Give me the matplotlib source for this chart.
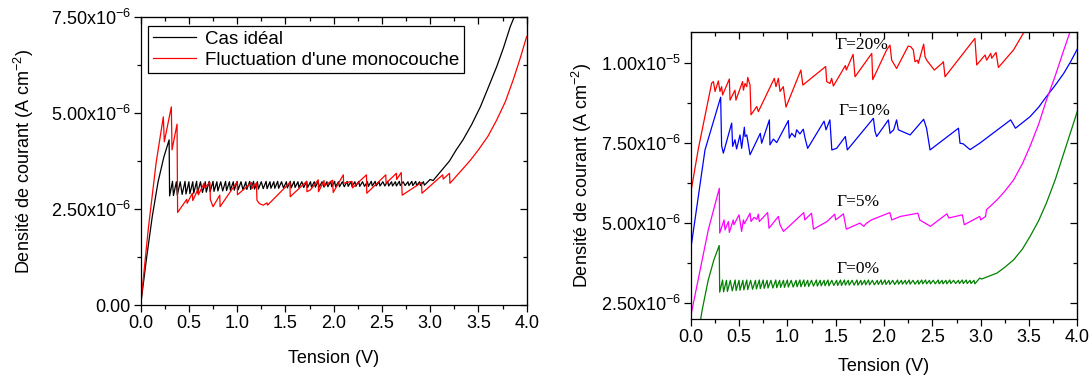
import matplotlib
matplotlib.use('Agg')
import matplotlib.pyplot as plt
from matplotlib.ticker import FixedLocator

plt.rcParams['font.family'] = ['Liberation Sans', 'DejaVu Sans']
plt.rcParams['mathtext.fontset'] = 'custom'
plt.rcParams['mathtext.rm'] = 'Liberation Sans'
plt.rcParams['mathtext.it'] = 'Liberation Sans:italic'
plt.rcParams['font.size'] = 13

# current density in units of 1e-6 A cm^-2, voltage in V

# ideal case (also Gamma = 0 %): rise, regular sawtooth, then tail
ideal_rise_v = [0.0, 0.06, 0.12, 0.18, 0.24, 0.295]
ideal_rise_j = [0.0, 1.2, 2.3, 3.2, 3.85, 4.30]

ideal_trough_v = [0.30, 0.34, 0.38, 0.43, 0.47, 0.51, 0.55, 0.59, 0.64, 0.68,
                  0.72, 0.76, 0.80, 0.85, 0.89, 0.93, 0.97, 1.01, 1.06, 1.10,
                  1.14, 1.18, 1.22, 1.27, 1.31, 1.35, 1.39, 1.43, 1.48, 1.52,
                  1.56, 1.60, 1.64, 1.69, 1.73, 1.77, 1.81, 1.85, 1.90, 1.94,
                  1.98, 2.02, 2.06, 2.11, 2.15, 2.19, 2.23, 2.27, 2.32, 2.36,
                  2.40, 2.44, 2.48, 2.53, 2.57, 2.61, 2.65, 2.69, 2.74, 2.78,
                  2.82, 2.86, 2.90]
ideal_trough_j = [2.84, 2.85, 2.86, 2.88, 2.89, 2.90, 2.91, 2.92, 2.93, 2.94,
                  2.95, 2.96, 2.97, 2.97, 2.98, 2.99, 2.99, 3.00, 3.00, 3.01,
                  3.01, 3.02, 3.02, 3.03, 3.03, 3.04, 3.04, 3.04, 3.05, 3.05,
                  3.05, 3.06, 3.06, 3.06, 3.06, 3.07, 3.07, 3.07, 3.07, 3.08,
                  3.08, 3.08, 3.08, 3.08, 3.09, 3.09, 3.09, 3.09, 3.09, 3.09,
                  3.10, 3.10, 3.10, 3.10, 3.10, 3.10, 3.10, 3.11, 3.11, 3.11,
                  3.11, 3.11, 3.11]
ideal_peak_v = [0.33, 0.37, 0.41, 0.46, 0.50, 0.54, 0.58, 0.62, 0.67, 0.71,
                0.75, 0.79, 0.83, 0.88, 0.92, 0.96, 1.00, 1.04, 1.09, 1.13,
                1.17, 1.21, 1.25, 1.30, 1.34, 1.38, 1.42, 1.46, 1.51, 1.55,
                1.59, 1.63, 1.67, 1.72, 1.76, 1.80, 1.84, 1.88, 1.93, 1.97,
                2.01, 2.05, 2.09, 2.14, 2.18, 2.22, 2.26, 2.30, 2.35, 2.39,
                2.43, 2.47, 2.51, 2.56, 2.60, 2.64, 2.68, 2.72, 2.77, 2.81,
                2.85, 2.89, 2.93]
ideal_peak_j = [3.22, 3.21, 3.21, 3.22, 3.21, 3.21, 3.22, 3.21, 3.21, 3.22,
                3.22, 3.21, 3.21, 3.22, 3.21, 3.21, 3.22, 3.21, 3.21, 3.22,
                3.22, 3.21, 3.21, 3.22, 3.21, 3.21, 3.22, 3.21, 3.21, 3.22,
                3.22, 3.21, 3.21, 3.22, 3.21, 3.21, 3.22, 3.21, 3.21, 3.22,
                3.22, 3.21, 3.21, 3.22, 3.21, 3.21, 3.22, 3.21, 3.21, 3.22,
                3.22, 3.21, 3.21, 3.22, 3.21, 3.21, 3.22, 3.21, 3.21, 3.22,
                3.22, 3.21, 3.21]

left_tail_v = [2.94, 3.00, 3.03, 3.10, 3.20, 3.27, 3.34, 3.43, 3.52, 3.60,
               3.69, 3.76, 3.83, 3.92]
left_tail_j = [3.12, 3.27, 3.24, 3.45, 3.75, 4.04, 4.30, 4.70, 5.16, 5.65,
               6.21, 6.70, 7.25, 7.80]

right_tail_v = [2.94, 2.99, 3.01, 3.17, 3.25, 3.34, 3.43, 3.51, 3.60, 3.68,
                3.77, 3.86, 3.93, 4.00]
right_tail_j = [3.10, 3.28, 3.25, 3.44, 3.62, 3.85, 4.18, 4.58, 5.08, 5.63,
                6.35, 7.19, 7.85, 8.50]

# one monolayer fluctuation (left panel)
fluct_v = [0.0, 0.08, 0.16, 0.235, 0.245, 0.318, 0.325, 0.377, 0.383,
           0.477, 0.482, 0.536, 0.540, 0.595, 0.598, 0.657, 0.660, 0.718, 0.722,
           0.75, 0.82, 0.823, 1.0, 1.003, 1.15, 1.153, 1.20, 1.205, 1.23,
           1.27, 1.31, 1.315, 1.547, 1.55, 1.72, 1.723, 1.76, 1.84, 1.843,
           1.90, 1.903, 1.99, 1.995, 2.10, 2.103, 2.19, 2.195, 2.34, 2.343,
           2.54, 2.543, 2.65, 2.653, 2.70, 2.71, 2.91, 2.915, 3.13, 3.135,
           3.20, 3.205, 3.34, 3.42, 3.50, 3.60, 3.69, 3.78, 3.86, 3.93, 4.0]
fluct_j = [0.0, 2.0, 3.7, 4.90, 4.25, 5.16, 4.04, 4.71, 2.41,
           2.75, 2.65, 2.91, 2.72, 3.02, 2.87, 3.17, 3.05, 3.19, 2.75,
           2.56, 2.86, 2.56, 3.21, 2.87, 3.19, 3.03, 3.18, 2.73, 2.64,
           2.60, 2.66, 2.60, 3.19, 2.82, 3.22, 2.95, 3.00, 3.26, 2.95,
           3.24, 3.10, 3.25, 2.93, 3.39, 3.17, 3.22, 3.05, 3.39, 2.91,
           3.39, 3.17, 3.43, 3.27, 3.45, 2.86, 3.19, 2.91, 3.39, 3.28,
           3.43, 3.17, 3.55, 3.78, 4.04, 4.40, 4.82, 5.30, 5.86, 6.40, 6.99]

# Gamma = 5 %
g5_v = [0.0, 0.182, 0.296, 0.30, 0.345, 0.355, 0.39, 0.40, 0.44, 0.447,
        0.50, 0.527, 0.545, 0.555, 0.614, 0.624, 0.655, 0.683, 0.70, 0.71,
        0.796, 0.81, 0.907, 0.924, 0.96, 1.17, 1.18, 1.25, 1.27, 1.41,
        1.49, 1.50, 1.58, 1.61, 1.75, 1.79, 1.82, 1.87, 2.06, 2.08,
        2.17, 2.35, 2.37, 2.48, 2.65, 2.67, 2.81, 2.83, 2.99, 3.00,
        3.05, 3.06, 3.17, 3.25, 3.34, 3.43, 3.51, 3.60, 3.68, 3.77, 3.86, 3.96]
g5_j = [2.08, 4.79, 6.09, 4.69, 5.10, 4.79, 5.05, 4.71, 5.10, 4.95,
        5.26, 4.74, 5.10, 4.98, 5.31, 5.05, 5.18, 5.12, 5.28, 5.05,
        5.33, 4.84, 5.21, 4.95, 4.74, 5.33, 5.10, 5.31, 4.81, 5.05,
        5.28, 5.10, 5.29, 4.81, 5.00, 4.90, 5.00, 5.10, 5.33, 5.10,
        5.21, 5.31, 5.10, 4.90, 5.29, 5.16, 5.26, 4.95, 5.21, 5.10,
        5.21, 5.42, 5.73, 6.00, 6.35, 6.85, 7.40, 8.10, 8.85, 9.60, 10.42, 11.30]

# Gamma = 10 %
g10_v = [0.0, 0.148, 0.31, 0.32, 0.338, 0.424, 0.434, 0.458, 0.475, 0.51,
         0.527, 0.555, 0.562, 0.58, 0.614, 0.72, 0.734, 0.814, 0.82, 0.855,
         0.89, 1.01, 1.02, 1.045, 1.08, 1.096, 1.13, 1.165, 1.183, 1.21,
         1.38, 1.40, 1.44, 1.46, 1.51, 1.60, 1.62, 1.89, 1.907, 1.924,
         2.045, 2.062, 2.10, 2.13, 2.148, 2.27, 2.41, 2.44, 2.476, 2.77,
         2.786, 2.82, 2.85, 2.89, 2.99, 3.31, 3.36, 3.51, 3.60, 3.68, 3.77,
         3.86, 3.93, 4.0]
g10_j = [4.17, 7.29, 8.94, 7.42, 7.19, 8.13, 7.40, 7.61, 7.32, 7.76,
         7.34, 8.00, 7.71, 7.76, 7.14, 7.81, 7.50, 8.23, 7.45, 7.63,
         7.52, 8.21, 7.66, 7.81, 7.69, 7.92, 7.79, 7.94, 7.66, 7.34,
         8.19, 7.92, 8.23, 7.29, 7.34, 7.71, 7.29, 8.28, 7.87, 7.71,
         8.23, 7.81, 7.92, 8.23, 7.92, 7.76, 8.25, 7.97, 7.29, 7.97,
         7.50, 7.48, 7.40, 7.30, 7.50, 8.23, 7.97, 8.33, 8.63, 8.96, 9.31,
         9.69, 10.05, 10.45]

# Gamma = 20 %
g20_v = [0.0, 0.08, 0.217, 0.235, 0.252, 0.286, 0.303, 0.32, 0.33, 0.40,
         0.407, 0.458, 0.468, 0.537, 0.545, 0.562, 0.58, 0.59, 0.614, 0.624,
         0.683, 0.70, 0.865, 0.882, 0.907, 0.924, 0.958, 0.986, 1.14, 1.16,
         1.396, 1.407, 1.441, 1.458, 1.476, 1.60, 1.61, 1.68, 1.70, 1.873,
         1.883, 2.027, 2.062, 2.079, 2.13, 2.25, 2.276, 2.303, 2.32, 2.345,
         2.355, 2.41, 2.424, 2.441, 2.52, 2.60, 2.614, 2.631, 2.94, 2.959,
         3.045, 3.062, 3.104, 3.114, 3.159, 3.183, 3.34, 3.46, 3.55]
g20_j = [5.94, 7.34, 9.38, 9.43, 9.12, 9.45, 9.12, 9.27, 9.01, 9.51,
         8.85, 9.16, 8.85, 9.43, 9.16, 9.37, 9.27, 9.56, 9.32, 8.39,
         8.65, 8.49, 9.53, 9.27, 9.53, 9.12, 9.27, 8.63, 9.79, 9.32,
         9.90, 9.43, 9.37, 9.53, 9.29, 9.93, 9.79, 10.28, 9.58, 10.31,
         9.49, 10.42, 10.57, 10.10, 9.84, 10.54, 10.52, 10.42, 10.05, 10.10,
         10.00, 10.60, 10.21, 10.10, 9.79, 10.00, 10.05, 9.58, 10.78, 9.95,
         10.26, 10.10, 10.31, 10.16, 10.34, 9.87, 10.42, 11.04, 11.60]

x_ticks = [0.0, 0.5, 1.0, 1.5, 2.0, 2.5, 3.0, 3.5, 4.0]
x_minor = [0.25, 0.75, 1.25, 1.75, 2.25, 2.75, 3.25, 3.75]
left_yticks = [0.0, 2.5, 5.0, 7.5]
left_ylabels = ['0.00', r'2.50x10$^{-6}$', r'5.00x10$^{-6}$', r'7.50x10$^{-6}$']
left_yminor = [1.25, 3.75, 6.25]
right_yticks = [2.5, 5.0, 7.5, 10.0]
right_ylabels = [r'2.50x10$^{-6}$', r'5.00x10$^{-6}$', r'7.50x10$^{-6}$', r'1.00x10$^{-5}$']
right_yminor = [3.75, 6.25, 8.75]

gamma_labels = ['\u0393=20%', '\u0393=10%', '\u0393=5%', '\u0393=0%']
gamma_pos = [(1.51, 10.57), (1.53, 8.51), (1.51, 5.67), (1.51, 3.57)]


def ideal_curve(tail_v, tail_j):
    v = list(ideal_rise_v)
    j = list(ideal_rise_j)
    for a, b, c, d in zip(ideal_trough_v, ideal_trough_j, ideal_peak_v, ideal_peak_j):
        v += [a, c]
        j += [b, d]
    return v + tail_v, j + tail_j


def style(ax, yticks, ylabels, yminor):
    ax.set_xlim(0, 4)
    ax.set_xticks(x_ticks)
    ax.set_xticklabels(['%.1f' % t for t in x_ticks])
    ax.xaxis.set_minor_locator(FixedLocator(x_minor))
    ax.set_yticks(yticks)
    ax.set_yticklabels(ylabels)
    ax.yaxis.set_minor_locator(FixedLocator(yminor))
    ax.tick_params(which='major', direction='out', length=5, width=0.9, pad=2)
    ax.tick_params(which='minor', direction='out', length=3, width=0.9)
    for s in ax.spines.values():
        s.set_linewidth(0.9)
    top = ax.secondary_xaxis('top')
    top.set_xticks(x_ticks)
    top.xaxis.set_minor_locator(FixedLocator(x_minor))
    top.tick_params(which='both', direction='in', labeltop=False)
    top.tick_params(which='major', length=5, width=0.9)
    top.tick_params(which='minor', length=3, width=0.9)
    right = ax.secondary_yaxis('right')
    right.set_yticks(yticks)
    right.yaxis.set_minor_locator(FixedLocator(yminor))
    right.tick_params(which='both', direction='in', labelright=False)
    right.tick_params(which='major', length=5, width=0.9)
    right.tick_params(which='minor', length=3, width=0.9)
    ax.set_xlabel('Tension (V)')
    ax.set_ylabel('Densit\u00e9 de courant (A cm$^{-2}$)')


fig = plt.figure(figsize=(10.92, 3.76), dpi=100)
ax1 = fig.add_axes([0.1288, 0.1888, 0.3535, 0.766])
ax2 = fig.add_axes([0.6325, 0.1516, 0.3541, 0.7624])

lw = 0.9
v, j = ideal_curve(left_tail_v, left_tail_j)
ax1.plot(v, j, color='black', lw=lw, label='Cas id\u00e9al')
ax1.plot(fluct_v, fluct_j, color='#ff0000', lw=lw, label="Fluctuation d'une monocouche")
ax1.set_ylim(0, 7.5)
style(ax1, left_yticks, left_ylabels, left_yminor)
ax1.xaxis.labelpad = 13
ax1.yaxis.labelpad = 11
leg = ax1.legend(loc='upper left', bbox_to_anchor=(0.019, 0.969), borderaxespad=0,
                 fancybox=False, edgecolor='black', framealpha=1, handlelength=2.3,
                 labelspacing=0.2, borderpad=0.25, handletextpad=0.5, fontsize=13.5)
leg.get_frame().set_linewidth(0.9)

v, j = ideal_curve(right_tail_v, right_tail_j)
ax2.plot(g20_v, g20_j, color='#ff0000', lw=lw)
ax2.plot(g10_v, g10_j, color='#0000ff', lw=lw)
ax2.plot(g5_v, g5_j, color='#ff00ff', lw=lw)
ax2.plot(v, j, color='#008000', lw=lw)
ax2.set_ylim(2.0, 10.97)
style(ax2, right_yticks, right_ylabels, right_yminor)
ax2.xaxis.labelpad = 9
ax2.yaxis.labelpad = 5
for lab, (x, y) in zip(gamma_labels, gamma_pos):
    ax2.text(x, y, lab, family='Liberation Serif', fontsize=12.5, va='center', ha='left')

fig.savefig('out.png', dpi=100)
